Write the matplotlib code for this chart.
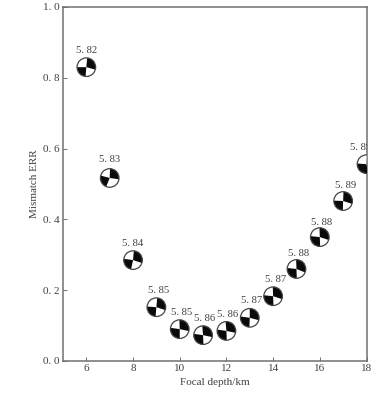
import matplotlib
matplotlib.use('Agg')
import matplotlib.pyplot as plt
from matplotlib.patches import Circle, Wedge
from matplotlib.transforms import ScaledTranslation

depth = [6, 7, 8, 9, 10, 11, 12, 13, 14, 15, 16, 17, 18]
err = [0.83, 0.517, 0.285, 0.152, 0.09, 0.073, 0.085, 0.122, 0.183, 0.26, 0.35, 0.452, 0.556]
magnitude = ['5. 82', '5. 83', '5. 84', '5. 85', '5. 85', '5. 86', '5. 86',
             '5. 87', '5. 87', '5. 88', '5. 88', '5. 89', '5. 89']
# black lobes of each focal mechanism, degrees
lobe_a = [(-15, 85), (-8, 88), (-18, 85), (-18, 85), (-12, 92), (-12, 95), (-12, 95),
          (-15, 90), (-18, 92), (-22, 92), (-18, 92), (-18, 88), (-18, 88)]
lobe_b = [(180, 265), (165, 248), (172, 258), (176, 265), (172, 270), (172, 272), (172, 272),
          (172, 268), (174, 272), (174, 272), (174, 272), (178, 268), (176, 280)]
# label offsets from the ball, pixels
label_dx = [0, 0, 0, 2, 2, 2, 1.5, 2, 2, 2, 1.5, 2, -6]
label_dy = [16.5, 18, 16.5, 16.5, 17, 17, 16.5, 17, 16.5, 15, 15, 15, 17]

x_ticks = [6, 8, 10, 12, 14, 16, 18]
y_ticks = [0, 0.2, 0.4, 0.6, 0.8, 1.0]
y_labels = ['0. 0', '0. 2', '0. 4', '0. 6', '0. 8', '1. 0']

plt.rcParams['font.family'] = ['Liberation Serif', 'DejaVu Serif']
grey = '#707070'
text_grey = '#404040'

fig = plt.figure(figsize=(3.88, 3.94), dpi=100)
ax = fig.add_axes([63 / 388, 1 - 361 / 394, 303.5 / 388, 354 / 394])
ax.set_xlim(5, 18)
ax.set_ylim(0, 1)

r = 9.3 / 100
px = 72 / 100
for i in range(len(depth)):
    t = fig.dpi_scale_trans + ScaledTranslation(depth[i], err[i], ax.transData)
    ax.add_patch(Circle((0, 0), r, fc='white', ec='none', transform=t, zorder=3))
    ax.add_patch(Wedge((0, 0), r, lobe_a[i][0], lobe_a[i][1], fc='#0a0a0a', ec='none', transform=t, zorder=4))
    ax.add_patch(Wedge((0, 0), r, lobe_b[i][0], lobe_b[i][1], fc='#0a0a0a', ec='none', transform=t, zorder=4))
    ax.add_patch(Circle((0, 0), r, fc='none', ec='#444444', lw=0.9, transform=t, zorder=5))
    ax.annotate(magnitude[i], (depth[i], err[i]),
                xytext=(label_dx[i] * px, label_dy[i] * px), textcoords='offset points',
                ha='center', va='center', fontsize=7.7, color=text_grey,
                annotation_clip=False).set_clip_path(ax.patch)

ax.set_xticks(x_ticks)
ax.set_yticks(y_ticks)
ax.set_yticklabels(y_labels)
ax.tick_params(direction='in', length=3, width=0.7, color=grey, labelcolor=text_grey,
               labelsize=8, pad=2.5)
for s in ax.spines.values():
    s.set_color(grey)
    s.set_linewidth(1.1)

ax.set_xlabel('Focal depth/km', fontsize=8, color=text_grey, labelpad=3)
ax.set_ylabel('Mismatch ERR', fontsize=8, color=text_grey, labelpad=3)

fig.savefig('out.png', dpi=100)
